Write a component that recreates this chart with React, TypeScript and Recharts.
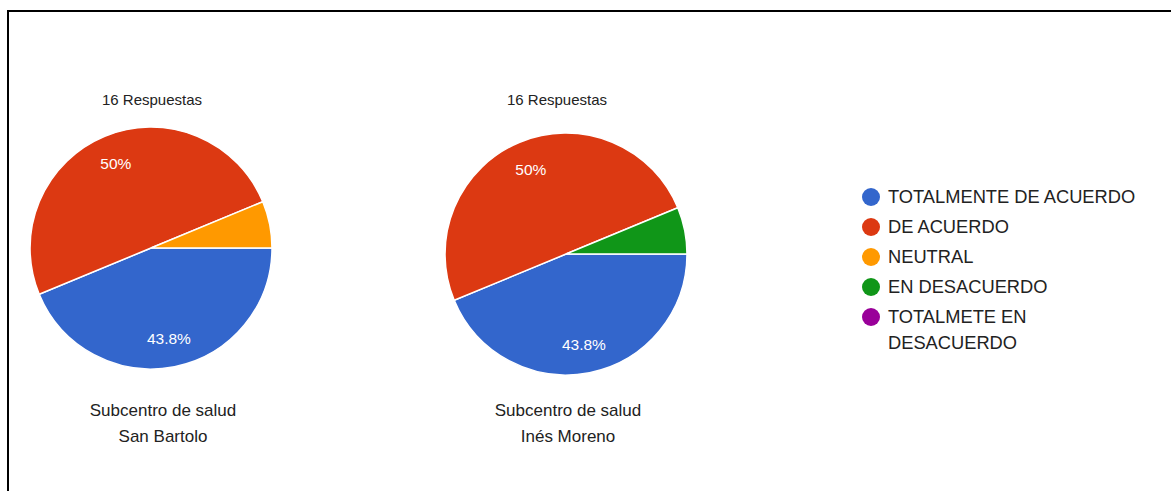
import { PieChart, Pie, Cell, Legend } from 'recharts'

const categories = ['TOTALMENTE DE ACUERDO', 'DE ACUERDO', 'NEUTRAL', 'EN DESACUERDO', 'TOTALMETE EN DESACUERDO']
const colors = ['#3366CC', '#DC3912', '#FF9900', '#109618', '#990099']
const sanBartolo = [7, 8, 1, 0, 0]
const inesMoreno = [7, 8, 0, 1, 0]
const titles = ['16 Respuestas', '16 Respuestas']
const captionsLeft = ['Subcentro de salud', 'San Bartolo']
const captionsRight = ['Subcentro de salud', 'Inés Moreno']

const FONT = 'Arial, "Liberation Sans", sans-serif'

const toData = (values: number[]) =>
  categories
    .map((name, i) => ({ name, value: values[i], color: colors[i] }))
    .filter(d => d.value > 0)

const pctLabel = (p: any) => {
  if (p.percent < 0.1) return null
  const r = p.outerRadius * 0.76
  const a = (-p.midAngle * Math.PI) / 180
  const x = p.cx + r * Math.cos(a)
  const y = p.cy + r * Math.sin(a)
  return (
    <text x={x} y={y} fill="#fff" textAnchor="middle" dominantBaseline="central"
      fontSize={15.5} fontFamily={FONT}>
      {`${parseFloat((p.percent * 100).toFixed(1))}%`}
    </text>
  )
}

const LegendBox = () => (
  <div style={{ fontFamily: FONT, fontSize: 18.3, color: '#222' }}>
    {categories.map((c, i) => (
      <div key={c} style={{ display: 'flex', alignItems: 'flex-start', marginBottom: 4 }}>
        <span style={{
          width: 18, height: 18, borderRadius: '50%', background: colors[i],
          marginTop: 4, marginRight: 8, flex: 'none',
        }} />
        <span style={{ width: 262, lineHeight: '26px' }}>{c}</span>
      </div>
    ))}
  </div>
)

export default function App() {
  return (
    <div style={{ position: 'absolute', left: 0, top: 0, width: 1171, height: 491, background: '#fff', overflow: 'hidden' }}>
      <div style={{
        position: 'absolute', left: 7, top: 10, width: 1200, height: 500,
        borderTop: '2px solid #000', borderLeft: '2px solid #000',
      }} />
      <div style={{ position: 'absolute', left: 0, top: 0 }}>
        <PieChart width={1171} height={491} margin={{ top: 0, right: 0, bottom: 0, left: 0 }}>
          <Pie data={toData(sanBartolo)} dataKey="value" nameKey="name" cx={151} cy={248}
            outerRadius={121} startAngle={0} endAngle={-360} stroke="#fff" strokeWidth={1.5}
            label={pctLabel} labelLine={false} isAnimationActive={false}>
            {toData(sanBartolo).map(d => <Cell key={d.name} fill={d.color} />)}
          </Pie>
          <Pie data={toData(inesMoreno)} dataKey="value" nameKey="name" cx={566} cy={254}
            outerRadius={121} startAngle={0} endAngle={-360} stroke="#fff" strokeWidth={1.5}
            label={pctLabel} labelLine={false} isAnimationActive={false}>
            {toData(inesMoreno).map(d => <Cell key={d.name} fill={d.color} />)}
          </Pie>
          <Legend content={<LegendBox />} layout="vertical" verticalAlign="top" align="right"
            wrapperStyle={{ left: 862, top: 184, width: 300 }} />
          <text x={152} y={105} textAnchor="middle" fontSize={15} fontFamily={FONT} fill="#222">{titles[0]}</text>
          <text x={557} y={105} textAnchor="middle" fontSize={15} fontFamily={FONT} fill="#222">{titles[1]}</text>
          {captionsLeft.map((t, i) => (
            <text key={t} x={163} y={416 + i * 26} textAnchor="middle" fontSize={17} fontFamily={FONT} fill="#222">{t}</text>
          ))}
          {captionsRight.map((t, i) => (
            <text key={t} x={568} y={416 + i * 26} textAnchor="middle" fontSize={17} fontFamily={FONT} fill="#222">{t}</text>
          ))}
        </PieChart>
      </div>
    </div>
  )
}
